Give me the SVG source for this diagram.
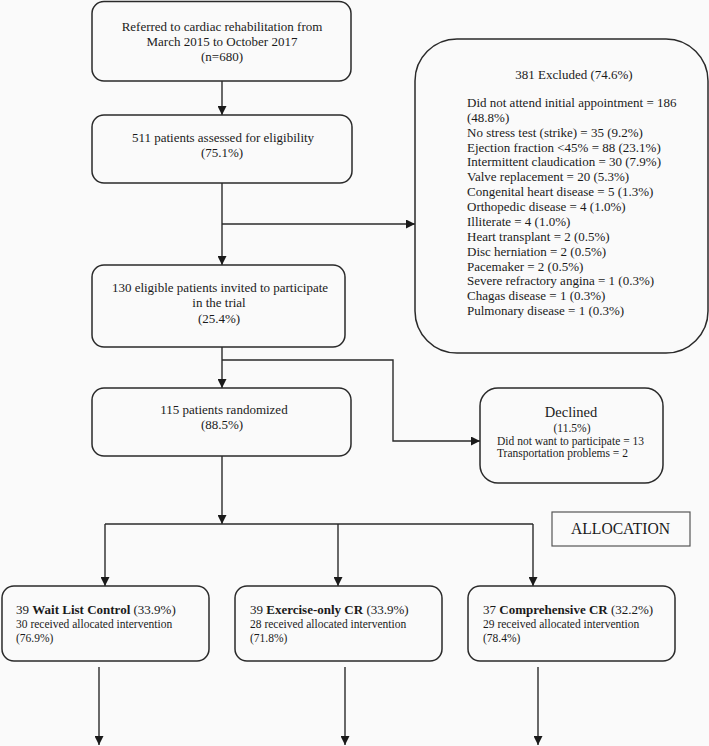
<svg xmlns="http://www.w3.org/2000/svg" width="709" height="746" viewBox="0 0 709 746">
<style>
  .box{fill:#fafafa;stroke:#2a2a2a;stroke-width:1.5}
  .t{font-family:"Liberation Serif","Times New Roman",serif;font-size:13px;fill:#1a1a1a}
  .s{font-family:"Liberation Serif","Times New Roman",serif;font-size:11.5px;fill:#1a1a1a}
  .c{text-anchor:middle}
  .b{font-weight:bold}
  .ln{fill:none;stroke:#2a2a2a;stroke-width:1.4}
</style>
<defs>
  <marker id="ah" markerUnits="userSpaceOnUse" markerWidth="10" markerHeight="9" refX="9" refY="4.5" orient="auto">
    <path d="M0,0 L9,4.5 L0,9 z" fill="#1a1a1a"/>
  </marker>
</defs>
<rect x="0" y="0" width="709" height="746" fill="#fafafa"/>

<g id="connectors">
  <path class="ln" d="M222,81 V115" marker-end="url(#ah)"/>
  <path class="ln" d="M222,183 V265" marker-end="url(#ah)"/>
  <path class="ln" d="M222,224 H415" marker-end="url(#ah)"/>
  <path class="ln" d="M222,347 V388" marker-end="url(#ah)"/>
  <path class="ln" d="M222,360 H393 V441 H480" marker-end="url(#ah)"/>
  <path class="ln" d="M222,456 V524" marker-end="url(#ah)"/>
  <path class="ln" d="M105,524 H533"/>
  <path class="ln" d="M105,524 V586" marker-end="url(#ah)"/>
  <path class="ln" d="M338,524 V586" marker-end="url(#ah)"/>
  <path class="ln" d="M533,524 V586" marker-end="url(#ah)"/>
  <path class="ln" d="M99,667 V745" marker-end="url(#ah)"/>
  <path class="ln" d="M345,667 V745" marker-end="url(#ah)"/>
  <path class="ln" d="M538,667 V745" marker-end="url(#ah)"/>
</g>

<g id="referred">
  <rect class="box" x="92" y="1.5" width="259" height="79.5" rx="12"/>
  <text class="t c" x="222" y="31">Referred to cardiac rehabilitation from</text>
  <text class="t c" x="222" y="46">March 2015 to October 2017</text>
  <text class="t c" x="222" y="61">(n=680)</text>
</g>

<g id="assessed">
  <rect class="box" x="92" y="115" width="260" height="68" rx="12"/>
  <text class="t c" x="223" y="142">511 patients assessed for eligibility</text>
  <text class="t c" x="222" y="157">(75.1%)</text>
</g>

<g id="excluded">
  <rect class="box" x="415" y="39" width="293" height="314" rx="42"/>
  <text class="t c" x="574" y="79">381 Excluded (74.6%)</text>
  <text class="t" x="467" y="107">Did not attend initial appointment = 186</text>
  <text class="t" x="467" y="121.9">(48.8%)</text>
  <text class="t" x="467" y="136.7">No stress test (strike) = 35 (9.2%)</text>
  <text class="t" x="467" y="151.6">Ejection fraction &lt;45% = 88 (23.1%)</text>
  <text class="t" x="467" y="166.4">Intermittent claudication = 30 (7.9%)</text>
  <text class="t" x="467" y="181.3">Valve replacement = 20 (5.3%)</text>
  <text class="t" x="467" y="196.2">Congenital heart disease = 5 (1.3%)</text>
  <text class="t" x="467" y="211">Orthopedic disease = 4 (1.0%)</text>
  <text class="t" x="467" y="225.9">Illiterate = 4 (1.0%)</text>
  <text class="t" x="467" y="240.7">Heart transplant = 2 (0.5%)</text>
  <text class="t" x="467" y="255.6">Disc herniation = 2 (0.5%)</text>
  <text class="t" x="467" y="270.5">Pacemaker = 2 (0.5%)</text>
  <text class="t" x="467" y="285.3">Severe refractory angina = 1 (0.3%)</text>
  <text class="t" x="467" y="300.2">Chagas disease = 1 (0.3%)</text>
  <text class="t" x="467" y="315">Pulmonary disease = 1 (0.3%)</text>
</g>

<g id="eligible">
  <rect class="box" x="92" y="265" width="253" height="82" rx="12"/>
  <text class="t c" x="220" y="292">130 eligible patients invited to participate</text>
  <text class="t c" x="219" y="307">in the trial</text>
  <text class="t c" x="219" y="323">(25.4%)</text>
</g>

<g id="randomized">
  <rect class="box" x="92" y="388" width="259" height="68" rx="12"/>
  <text class="t c" x="224" y="414">115 patients randomized</text>
  <text class="t c" x="222" y="429">(88.5%)</text>
</g>

<g id="declined">
  <rect class="box" x="480" y="388" width="183" height="95" rx="18"/>
  <text class="t c" x="571" y="417" style="font-size:14.5px">Declined</text>
  <text class="s c" x="572" y="432">(11.5%)</text>
  <text class="s" x="497" y="445">Did not want to participate = 13</text>
  <text class="s" x="497" y="457">Transportation problems = 2</text>
</g>

<g id="allocation">
  <rect x="552" y="512" width="138" height="34" fill="#fafafa" stroke="#555" stroke-width="1.2"/>
  <text x="571" y="534" textLength="99" lengthAdjust="spacingAndGlyphs" style="font-family:'Liberation Serif','Times New Roman',serif;font-size:17px;fill:#1a1a1a">ALLOCATION</text>
</g>

<g id="waitlist">
  <rect class="box" x="2" y="586" width="207" height="75" rx="12"/>
  <text class="t" x="16" y="614">39 <tspan class="b">Wait List Control</tspan> (33.9%)</text>
  <text class="s" x="16" y="628">30 received allocated intervention</text>
  <text class="s" x="16" y="642">(76.9%)</text>
</g>

<g id="exercise">
  <rect class="box" x="235" y="586" width="207" height="75" rx="12"/>
  <text class="t" x="250" y="614">39 <tspan class="b">Exercise-only CR</tspan> (33.9%)</text>
  <text class="s" x="250" y="628">28 received allocated intervention</text>
  <text class="s" x="250" y="642">(71.8%)</text>
</g>

<g id="comprehensive">
  <rect class="box" x="468" y="586" width="207" height="75" rx="12"/>
  <text class="t" x="483" y="614">37 <tspan class="b">Comprehensive CR</tspan> (32.2%)</text>
  <text class="s" x="483" y="628">29 received allocated intervention</text>
  <text class="s" x="483" y="642">(78.4%)</text>
</g>
</svg>
